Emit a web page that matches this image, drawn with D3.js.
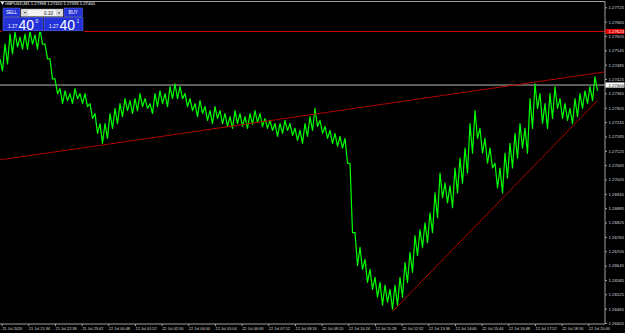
<!DOCTYPE html>
<html>
<head>
<meta charset="utf-8">
<script src="https://cdn.jsdelivr.net/npm/d3@7"></script>
<style>
body { margin: 0; background: #000; overflow: hidden; }
text { font-family: "Liberation Sans", Arial, sans-serif; }
</style>
</head>
<body>
<svg id="chart" width="625" height="333"></svg>
<script>
var symbol = "GBPUSD,M1";
var barOhlc = [1.27398, 1.27410, 1.27393, 1.27400];
var bid = 1.27400,
    ask = 1.27401,
    lot = "0.10",
    alertLevel = 1.27624;

var priceTicks = [1.27725, 1.27665, 1.27605, 1.27545, 1.27485, 1.27425, 1.27365, 1.27305,
  1.27245, 1.27185, 1.27125, 1.27065, 1.27005, 1.26945, 1.26885, 1.26825, 1.26765,
  1.26705, 1.26645, 1.26585, 1.26525, 1.26465, 1.26405];

// minutes since the first bar
var timeTicks = [4, 68, 132, 196, 260, 324, 388, 452, 516, 580, 644, 708, 772, 836,
  900, 964, 1028, 1092, 1156, 1220, 1284, 1348, 1412];
var timeLabels = ["21 Jul 2020", "21 Jul 21:34", "21 Jul 22:38", "21 Jul 23:42",
  "22 Jul 00:48", "22 Jul 01:52", "22 Jul 02:56", "22 Jul 04:00", "22 Jul 05:04",
  "22 Jul 06:08", "22 Jul 07:12", "22 Jul 08:16", "22 Jul 09:20", "22 Jul 10:24",
  "22 Jul 11:28", "22 Jul 12:32", "22 Jul 13:36", "22 Jul 14:40", "22 Jul 15:44",
  "22 Jul 16:48", "22 Jul 17:52", "22 Jul 18:56", "22 Jul 20:00"];

// one high/low pair for every 12 one-minute bars
var sampleMinutes = 12;
var highs = [1.27509, 1.27571, 1.27613, 1.27621, 1.27600, 1.27613, 1.27625, 1.27609, 1.27634, 1.27571,
  1.27509, 1.27426, 1.27385, 1.27376, 1.27364, 1.27385, 1.27364, 1.27364, 1.27322, 1.27281,
  1.27239, 1.27239, 1.27281, 1.27302, 1.27322, 1.27343, 1.27335, 1.27343, 1.27364, 1.27343,
  1.27322, 1.27364, 1.27376, 1.27364, 1.27393, 1.27405, 1.27393, 1.27364, 1.27343, 1.27322,
  1.27335, 1.27310, 1.27293, 1.27310, 1.27293, 1.27281, 1.27268, 1.27293, 1.27281, 1.27268,
  1.27281, 1.27293, 1.27281, 1.27260, 1.27252, 1.27239, 1.27239, 1.27252, 1.27239, 1.27219,
  1.27210, 1.27239, 1.27268, 1.27302, 1.27252, 1.27227, 1.27210, 1.27198, 1.27185, 1.27177,
  1.27073, 1.26783, 1.26721, 1.26671, 1.26629, 1.26596, 1.26575, 1.26563, 1.26546, 1.26563,
  1.26596, 1.26658, 1.26700, 1.26770, 1.26795, 1.26824, 1.26866, 1.26949, 1.27032, 1.26990,
  1.26978, 1.27053, 1.27094, 1.27136, 1.27239, 1.27293, 1.27219, 1.27177, 1.27136, 1.27073,
  1.27053, 1.27115, 1.27156, 1.27198, 1.27239, 1.27219, 1.27343, 1.27405, 1.27364, 1.27322,
  1.27364, 1.27393, 1.27343, 1.27322, 1.27302, 1.27343, 1.27364, 1.27376, 1.27393, 1.27434];
var lows = [1.27459, 1.27488, 1.27530, 1.27559, 1.27550, 1.27550, 1.27571, 1.27550, 1.27571, 1.27509,
  1.27426, 1.27364, 1.27322, 1.27335, 1.27322, 1.27343, 1.27322, 1.27310, 1.27260, 1.27198,
  1.27156, 1.27177, 1.27219, 1.27239, 1.27268, 1.27293, 1.27281, 1.27293, 1.27310, 1.27302,
  1.27281, 1.27310, 1.27322, 1.27310, 1.27343, 1.27343, 1.27343, 1.27310, 1.27293, 1.27268,
  1.27281, 1.27252, 1.27239, 1.27260, 1.27239, 1.27227, 1.27219, 1.27239, 1.27227, 1.27219,
  1.27235, 1.27243, 1.27227, 1.27219, 1.27210, 1.27185, 1.27198, 1.27210, 1.27189, 1.27169,
  1.27156, 1.27185, 1.27210, 1.27227, 1.27198, 1.27177, 1.27156, 1.27144, 1.27136, 1.27073,
  1.26783, 1.26646, 1.26629, 1.26575, 1.26546, 1.26513, 1.26480, 1.26492, 1.26463, 1.26480,
  1.26513, 1.26575, 1.26617, 1.26687, 1.26721, 1.26741, 1.26783, 1.26845, 1.26928, 1.26907,
  1.26887, 1.26949, 1.26990, 1.27032, 1.27115, 1.27177, 1.27115, 1.27073, 1.27053, 1.26970,
  1.26949, 1.27011, 1.27053, 1.27094, 1.27136, 1.27115, 1.27219, 1.27302, 1.27239, 1.27219,
  1.27260, 1.27302, 1.27260, 1.27252, 1.27239, 1.27268, 1.27302, 1.27322, 1.27335, 1.27376];

var trendUpper = [{t: 0, p: 1.27087}, {t: 1452, p: 1.27455}];
var trendLower = [{t: 943, p: 1.26455}, {t: 1435, p: 1.27337}];

var svg = d3.select("#chart"),
    plotRight = 605,
    plotBottom = 324;

svg.append("rect").attr("width", 625).attr("height", 333).attr("fill", "#000");

var x = d3.scaleLinear().domain([0, 1452]).range([0, plotRight]);
var y = d3.scaleLinear().domain([1.26405, 1.27725]).range([323, 7.3]);

svg.append("clipPath").attr("id", "plot")
  .append("rect").attr("width", plotRight).attr("height", plotBottom);

var g = svg.append("g").attr("clip-path", "url(#plot)");

// alert level and bid line
g.append("line")
    .attr("x1", 0).attr("x2", plotRight)
    .attr("y1", y(alertLevel)).attr("y2", y(alertLevel))
    .attr("stroke", "#d00000").attr("stroke-width", 1);

g.append("line")
    .attr("x1", 0).attr("x2", plotRight)
    .attr("y1", y(bid)).attr("y2", y(bid))
    .attr("stroke", "#b8b8b8").attr("stroke-width", 1);

// price trace, high then low for each sample
var pts = [];
highs.forEach(function(h, i) {
  pts.push([i * sampleMinutes, h]);
  pts.push([i * sampleMinutes + sampleMinutes / 2, lows[i]]);
});

var zig = d3.line()
    .x(function(d) { return x(d[0]); })
    .y(function(d) { return y(d[1]); });

g.append("path")
    .datum(pts)
    .attr("fill", "none")
    .attr("stroke", "#00ff00")
    .attr("stroke-width", 1.2)
    .attr("stroke-linejoin", "round")
    .attr("d", zig);

var trend = d3.line()
    .x(function(d) { return x(d.t); })
    .y(function(d) { return y(d.p); });

g.append("path").datum(trendUpper)
    .attr("fill", "none").attr("stroke", "#b00000").attr("stroke-width", 1)
    .attr("d", trend);

g.append("path").datum(trendLower)
    .attr("fill", "none").attr("stroke", "#b00000").attr("stroke-width", 1)
    .attr("d", trend);

// frame
svg.append("path")
    .attr("d", "M0,1.5H" + plotRight + "V" + plotBottom + "H0")
    .attr("fill", "none")
    .attr("stroke", "#a0a0a0")
    .attr("stroke-width", 1);

// price axis
var ay = svg.append("g")
    .attr("transform", "translate(" + plotRight + ",0)")
    .call(d3.axisRight(y).tickValues(priceTicks).tickSize(2).tickFormat(d3.format(".5f")));
ay.select(".domain").remove();
ay.selectAll("line").attr("stroke", "#a0a0a0");
ay.selectAll("text")
    .attr("x", 3.5)
    .attr("fill", "#d8d8d8")
    .style("font-size", "4.3px");

// time axis
var ax = svg.append("g")
    .attr("transform", "translate(0," + plotBottom + ")")
    .call(d3.axisBottom(x).tickValues(timeTicks).tickSize(2)
      .tickFormat(function(d, i) { return timeLabels[i]; }));
ax.select(".domain").remove();
ax.selectAll("line").attr("stroke", "#a0a0a0");
ax.selectAll("text")
    .attr("y", 3.5)
    .attr("dy", "0.71em")
    .attr("text-anchor", "start")
    .attr("fill", "#d8d8d8")
    .style("font-size", "3.9px");

// price labels on the axis
function axisLabel(price, bg, fg) {
  svg.append("rect")
      .attr("x", plotRight + 0.5).attr("y", y(price) - 2.6)
      .attr("width", 19).attr("height", 5.2)
      .attr("fill", bg);
  svg.append("text")
      .attr("x", plotRight + 3.5).attr("y", y(price))
      .attr("dy", "0.35em")
      .attr("fill", fg)
      .style("font-size", "4.3px")
      .text(price.toFixed(5));
}
axisLabel(alertLevel, "#e00000", "#fff");
axisLabel(bid, "#fff", "#000");

// header
svg.append("path").attr("d", "M1,2L4,2L2.5,5Z").attr("fill", "#fff");
svg.append("text")
    .attr("x", 5).attr("y", 5.3)
    .attr("fill", "#fff")
    .style("font-size", "4.2px")
    .text(symbol + "  " + barOhlc.map(function(v) { return v.toFixed(5); }).join(" "));

// one click trading panel
var panel = svg.append("g");
var blue = "#2331d6";

panel.append("rect").attr("x", 2).attr("y", 7.5).attr("width", 82).attr("height", 24.5).attr("fill", "#000");

panel.append("rect").attr("x", 3).attr("y", 8).attr("width", 17).attr("height", 8.6)
    .attr("fill", blue).attr("stroke", "#6a78f0").attr("stroke-width", 0.5);
panel.append("text").attr("x", 11.5).attr("y", 14.2).attr("text-anchor", "middle")
    .attr("fill", "#fff").style("font-size", "4.6px").text("SELL");

panel.append("rect").attr("x", 64).attr("y", 8).attr("width", 18.5).attr("height", 8.6)
    .attr("fill", blue).attr("stroke", "#6a78f0").attr("stroke-width", 0.5);
panel.append("text").attr("x", 73.2).attr("y", 14.2).attr("text-anchor", "middle")
    .attr("fill", "#fff").style("font-size", "4.6px").text("BUY");

panel.append("rect").attr("x", 21).attr("y", 9).attr("width", 42).attr("height", 7.5)
    .attr("fill", "#f2f2f2").attr("stroke", "#888").attr("stroke-width", 0.5);
panel.append("rect").attr("x", 22).attr("y", 9.8).attr("width", 6).attr("height", 6)
    .attr("fill", "#d8d8d8");
panel.append("rect").attr("x", 56).attr("y", 9.8).attr("width", 6).attr("height", 6)
    .attr("fill", "#d8d8d8");
panel.append("path").attr("d", "M23.8,12L26.2,12L25,13.6Z").attr("fill", "#333");
panel.append("path").attr("d", "M57.8,13.6L60.2,13.6L59,12Z").attr("fill", "#333");
panel.append("text").attr("x", 53).attr("y", 14.5).attr("text-anchor", "end")
    .attr("fill", "#111").style("font-size", "4.6px").text(lot);

function priceBox(x0, w, price) {
  var s = price.toFixed(5);
  panel.append("rect").attr("x", x0).attr("y", 17.3).attr("width", w).attr("height", 13.5)
      .attr("fill", blue).attr("stroke", "#6a78f0").attr("stroke-width", 0.5);
  panel.append("text").attr("x", x0 + 5).attr("y", 28.3)
      .attr("fill", "#fff").style("font-size", "4.8px").text(s.slice(0, 4));
  panel.append("text").attr("x", x0 + 15.5).attr("y", 30)
      .attr("fill", "#fff").style("font-size", "14px").text(s.slice(4, 6));
  panel.append("text").attr("x", x0 + 32.5).attr("y", 22.6)
      .attr("fill", "#fff").style("font-size", "5px").text(s.slice(6));
}
priceBox(3, 40, bid);
priceBox(44, 39, ask);
</script>
</body>
</html>
